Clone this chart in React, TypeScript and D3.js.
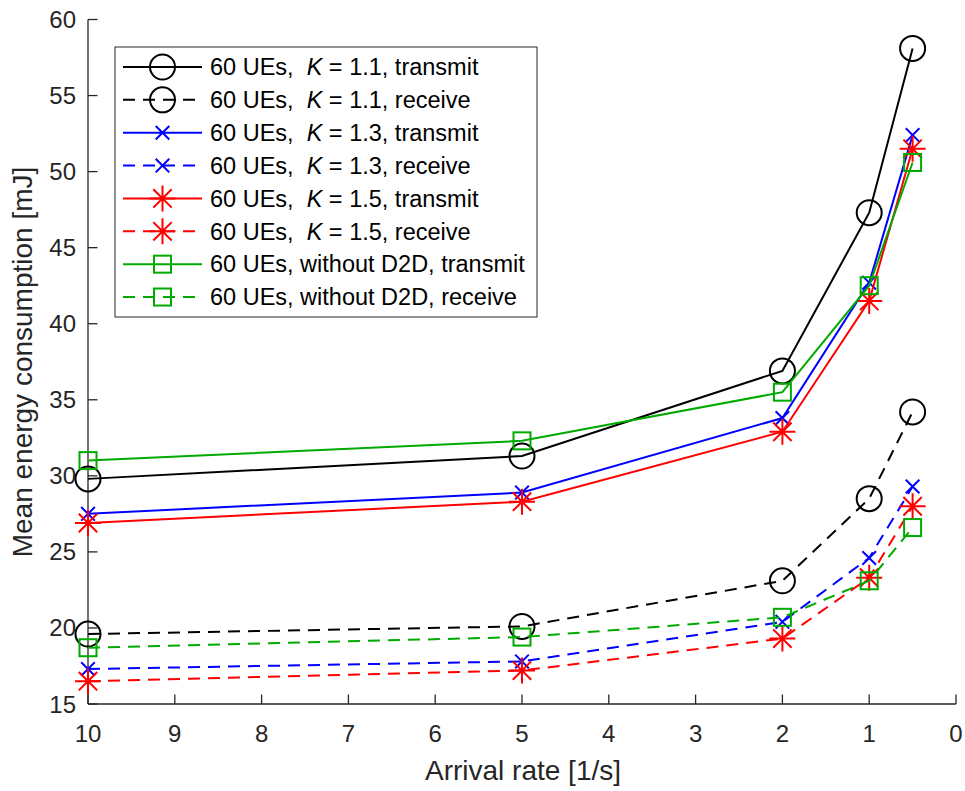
import React from "react";
import * as d3 from "d3";

const arrivalRates = [10, 5, 2, 1, 0.5];
const xTicks = [10, 9, 8, 7, 6, 5, 4, 3, 2, 1, 0];
const yTicks = [15, 20, 25, 30, 35, 40, 45, 50, 55, 60];

const k11Tx = [29.8, 31.3, 36.9, 47.3, 58.1];
const k11Rx = [19.6, 20.1, 23.1, 28.5, 34.2];
const k13Tx = [27.5, 28.9, 33.8, 42.7, 52.4];
const k13Rx = [17.3, 17.8, 20.4, 24.6, 29.3];
const k15Tx = [26.9, 28.3, 32.9, 41.5, 51.5];
const k15Rx = [16.5, 17.2, 19.3, 23.3, 28.0];
const noD2DTx = [31.0, 32.3, 35.5, 42.5, 50.6];
const noD2DRx = [18.7, 19.4, 20.7, 23.1, 26.6];

type Marker = "circle" | "x" | "asterisk" | "square";
interface Series {
  values: number[];
  color: string;
  dashed: boolean;
  marker: Marker;
  pre: string;
  k: string | null;
  post: string;
}

const series: Series[] = [
  { values: k11Tx, color: "#000000", dashed: false, marker: "circle", pre: "60 UEs,  ", k: "1.1", post: ", transmit" },
  { values: k11Rx, color: "#000000", dashed: true, marker: "circle", pre: "60 UEs,  ", k: "1.1", post: ", receive" },
  { values: k13Tx, color: "#0000ff", dashed: false, marker: "x", pre: "60 UEs,  ", k: "1.3", post: ", transmit" },
  { values: k13Rx, color: "#0000ff", dashed: true, marker: "x", pre: "60 UEs,  ", k: "1.3", post: ", receive" },
  { values: k15Tx, color: "#ff0000", dashed: false, marker: "asterisk", pre: "60 UEs,  ", k: "1.5", post: ", transmit" },
  { values: k15Rx, color: "#ff0000", dashed: true, marker: "asterisk", pre: "60 UEs,  ", k: "1.5", post: ", receive" },
  { values: noD2DTx, color: "#00aa00", dashed: false, marker: "square", pre: "60 UEs, without D2D, transmit", k: null, post: "" },
  { values: noD2DRx, color: "#00aa00", dashed: true, marker: "square", pre: "60 UEs, without D2D, receive", k: null, post: "" },
];

const FONT = "'Liberation Sans', Arial, Helvetica, sans-serif";
const AX = "#262626";

function MarkerShape({ type, cx, cy, color }: { type: Marker; cx: number; cy: number; color: string }) {
  const sw = 2;
  if (type === "circle") {
    return <circle cx={cx} cy={cy} r={12.5} fill="none" stroke={color} strokeWidth={sw} />;
  }
  if (type === "square") {
    return <rect x={cx - 8.5} y={cy - 8.5} width={17} height={17} fill="none" stroke={color} strokeWidth={sw} />;
  }
  if (type === "x") {
    const h = 6.8;
    return (
      <path d={`M${cx - h},${cy - h}L${cx + h},${cy + h}M${cx - h},${cy + h}L${cx + h},${cy - h}`} stroke={color} strokeWidth={sw} fill="none" />
    );
  }
  const p = 13;
  const q = 9.2;
  return (
    <path
      d={`M${cx - p},${cy}L${cx + p},${cy}M${cx},${cy - p}L${cx},${cy + p}M${cx - q},${cy - q}L${cx + q},${cy + q}M${cx - q},${cy + q}L${cx + q},${cy - q}`}
      stroke={color}
      strokeWidth={sw}
      fill="none"
    />
  );
}

export default function App() {
  const W = 965;
  const H = 791;
  const x = d3.scaleLinear().domain([10, 0]).range([88, 956]);
  const y = d3.scaleLinear().domain([15, 60]).range([704, 19.5]);
  const line = d3
    .line<number>()
    .x((_, i) => x(arrivalRates[i]))
    .y((d) => y(d));

  const legX = 115;
  const legY = 47;
  const legW = 422;
  const legH = 270;
  const rowY0 = 67;
  const rowStep = 32.86;

  return (
    <svg width={W} height={H} style={{ position: "absolute", left: 0, top: 0, background: "#fff" }} fontFamily={FONT}>
      <rect x={0} y={0} width={W} height={H} fill="#fff" />
      {/* axes */}
      <line x1={x(10)} x2={x(0)} y1={y(15)} y2={y(15)} stroke={AX} strokeWidth={1.3} />
      <line x1={x(10)} x2={x(10)} y1={y(15)} y2={y(60)} stroke={AX} strokeWidth={1.3} />
      {xTicks.map((t) => (
        <g key={"xt" + t}>
          <line x1={x(t)} x2={x(t)} y1={y(15)} y2={y(15) - 9.5} stroke={AX} strokeWidth={1.3} />
          <text x={x(t)} y={742} fontSize={24} textAnchor="middle" fill={AX}>
            {t}
          </text>
        </g>
      ))}
      {yTicks.map((t) => (
        <g key={"yt" + t}>
          <line x1={x(10)} x2={x(10) + 9.5} y1={y(t)} y2={y(t)} stroke={AX} strokeWidth={1.3} />
          <text x={76} y={y(t) + 8.5} fontSize={24} textAnchor="end" fill={AX}>
            {t}
          </text>
        </g>
      ))}
      <text x={523} y={780} fontSize={28} textAnchor="middle" fill={AX}>
        Arrival rate [1/s]
      </text>
      <text transform="translate(32,362) rotate(-90)" fontSize={28} textAnchor="middle" fill={AX}>
        Mean energy consumption [mJ]
      </text>

      {/* series */}
      {series.map((s, si) => (
        <g key={"s" + si}>
          <path d={line(s.values) || ""} fill="none" stroke={s.color} strokeWidth={2} strokeDasharray={s.dashed ? "12,8" : undefined} />
          {s.values.map((v, i) => (
            <MarkerShape key={i} type={s.marker} cx={x(arrivalRates[i])} cy={y(v)} color={s.color} />
          ))}
        </g>
      ))}

      {/* legend */}
      <rect x={legX} y={legY} width={legW} height={legH} fill="#fff" stroke={AX} strokeWidth={1} />
      {series.map((s, si) => {
        const cy = rowY0 + rowStep * si;
        return (
          <g key={"l" + si}>
            <line x1={123} x2={202} y1={cy} y2={cy} stroke={s.color} strokeWidth={2} strokeDasharray={s.dashed ? "12,8" : undefined} />
            <MarkerShape type={s.marker} cx={162.5} cy={cy} color={s.color} />
            <text x={210} y={cy + 8.3} fontSize={23.5} fill="#000" style={{ whiteSpace: "pre" }}>
              {s.k ? (
                <>
                  <tspan>{s.pre}</tspan>
                  <tspan fontStyle="italic">K</tspan>
                  <tspan>{" = " + s.k + s.post}</tspan>
                </>
              ) : (
                s.pre
              )}
            </text>
          </g>
        );
      })}
    </svg>
  );
}
